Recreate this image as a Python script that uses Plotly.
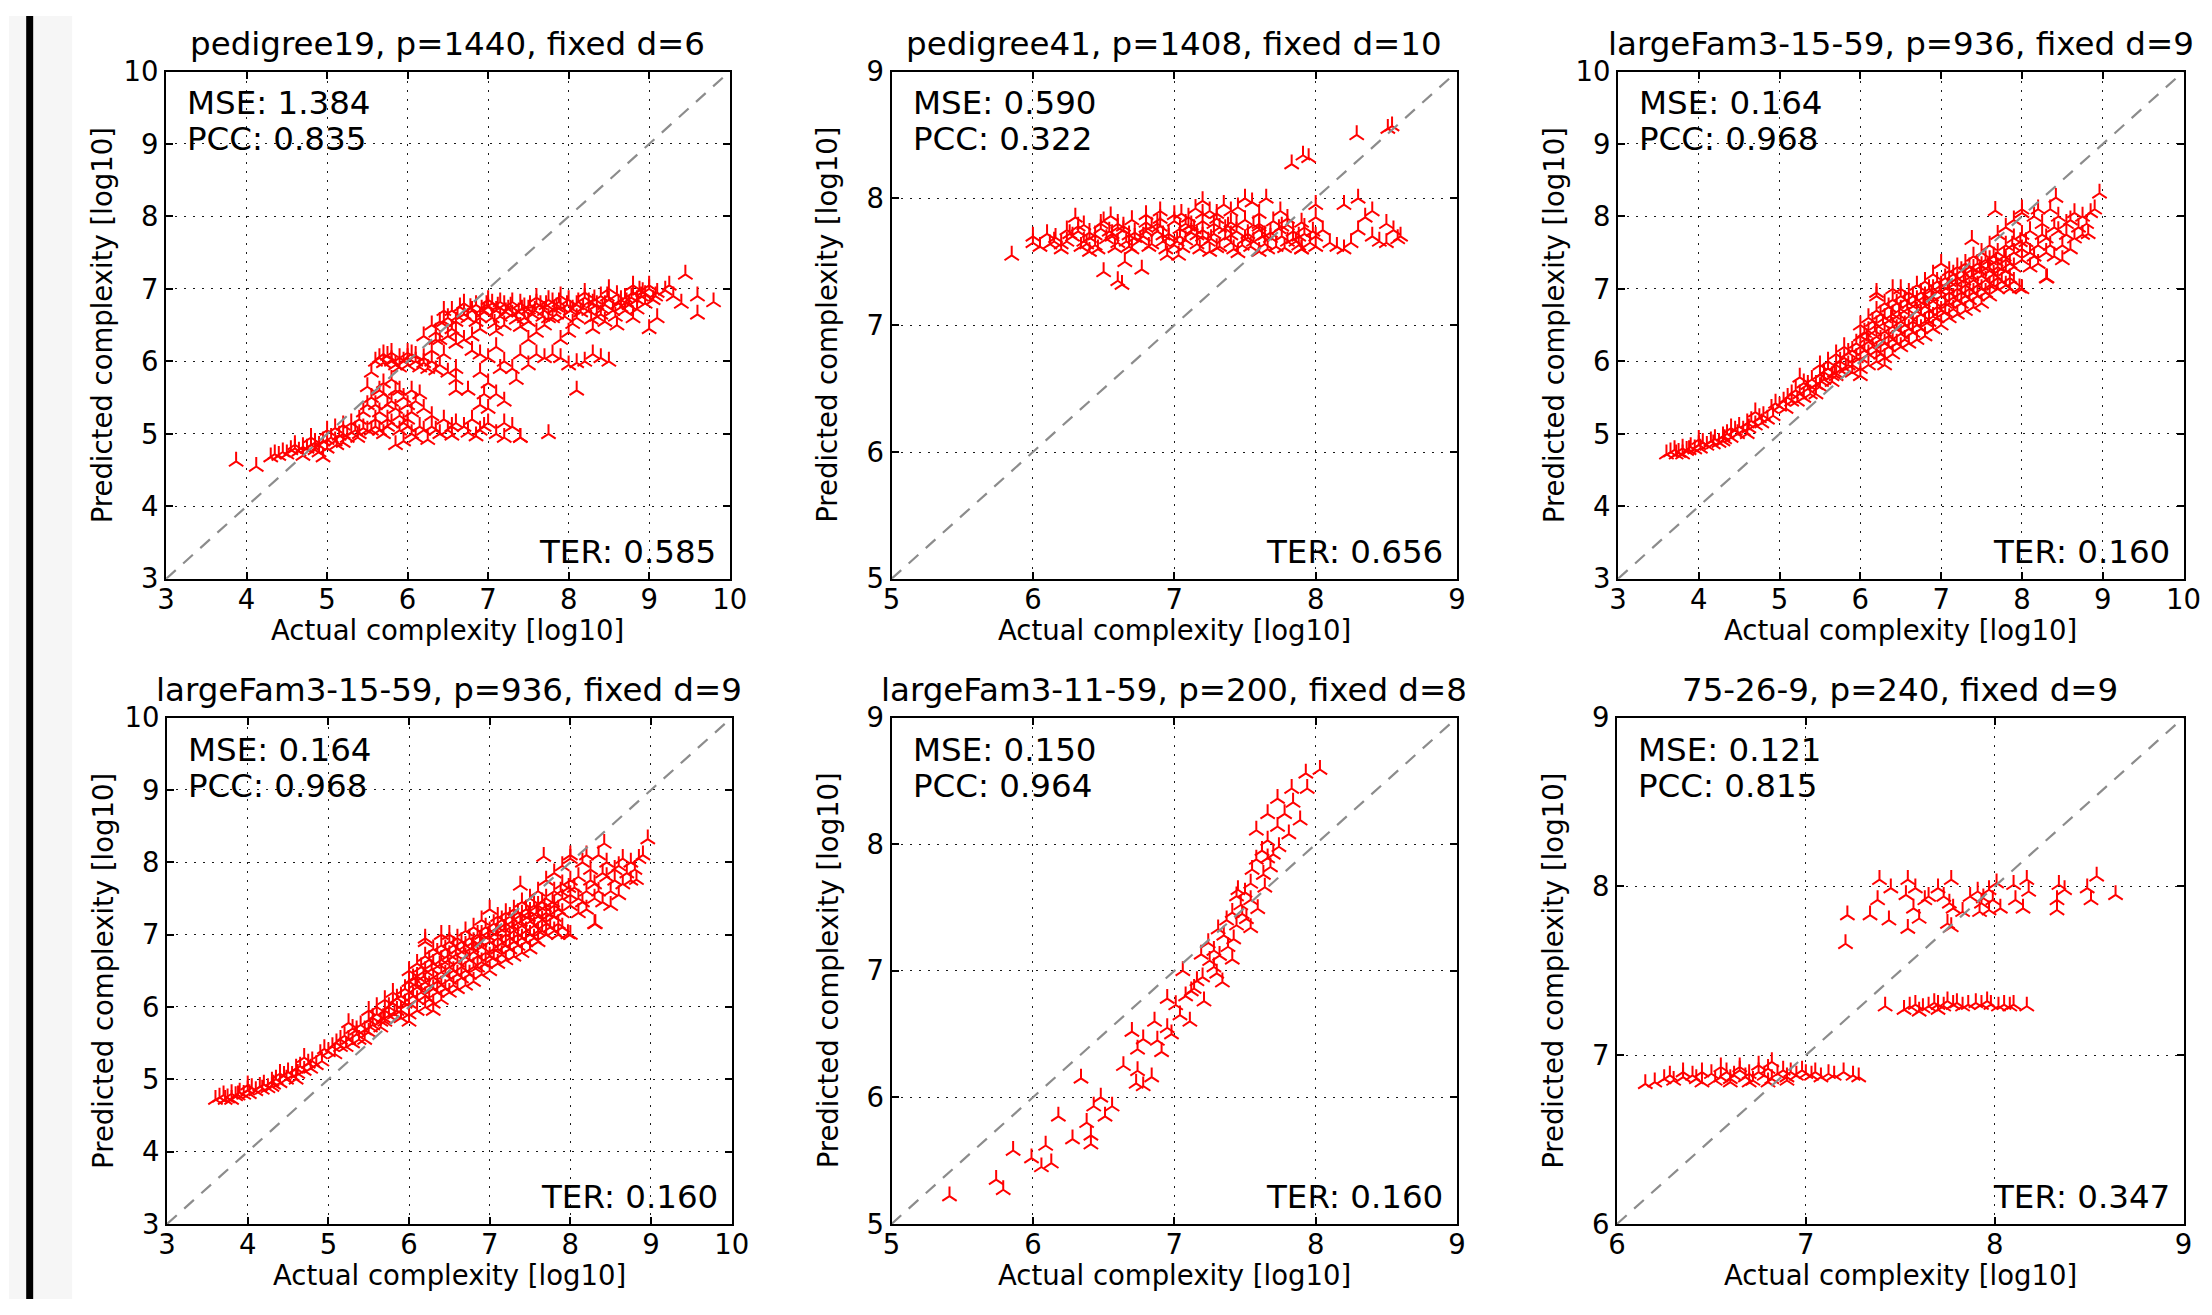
import plotly.graph_objects as go

W, H = 2212, 1315

# ---------------- data ----------------
titles = ["pedigree19, p=1440, fixed d=6", "pedigree41, p=1408, fixed d=10",
          "largeFam3-15-59, p=936, fixed d=9", "largeFam3-15-59, p=936, fixed d=9",
          "largeFam3-11-59, p=200, fixed d=8", "75-26-9, p=240, fixed d=9"]
mse = ["1.384", "0.590", "0.164", "0.164", "0.150", "0.121"]
pcc = ["0.835", "0.322", "0.968", "0.968", "0.964", "0.815"]
ter = ["0.585", "0.656", "0.160", "0.160", "0.160", "0.347"]
axis_lo = [3, 5, 3, 3, 5, 6]
axis_hi = [10, 9, 10, 10, 9, 9]

ped19_pts = [
    (3.87, 4.62), (4.12, 4.55),
    (4.3, 4.68), (4.35, 4.72), (4.4, 4.7), (4.45, 4.75), (4.5, 4.72), (4.55, 4.78), (4.6, 4.8), (4.65, 4.76),
    (4.7, 4.82), (4.75, 4.8), (4.8, 4.85), (4.85, 4.88), (4.9, 4.84), (4.95, 4.9), (5.0, 4.92), (5.05, 4.95),
    (5.1, 4.9), (5.15, 4.98), (5.2, 5.0), (5.25, 4.95), (5.3, 5.02), (5.35, 5.05), (5.4, 5.0), (5.45, 5.08),
    (5.5, 5.05), (4.9, 4.75), (5.0, 4.8), (4.7, 4.7), (5.2, 4.88), (5.0, 5.05), (5.2, 5.12), (5.3, 5.15),
    (4.8, 4.95), (5.1, 5.08), (4.95, 4.68),
    (5.6, 5.1), (5.7, 5.0), (5.8, 5.15), (5.9, 5.05), (6.0, 5.1), (6.1, 4.95), (6.2, 5.05), (6.3, 5.1),
    (6.4, 5.0), (6.5, 5.05), (6.6, 5.15), (6.7, 5.1), (6.8, 5.2), (6.9, 5.05), (7.0, 5.15), (7.1, 5.0),
    (7.2, 4.95), (7.3, 5.1), (7.4, 4.95), (6.45, 5.2), (6.85, 4.97), (5.85, 4.85), (5.95, 4.9), (6.55, 4.98),
    (5.65, 5.05), (6.05, 5.0), (6.25, 4.92), (6.75, 5.02),
    (5.5, 5.65), (5.55, 5.5), (5.6, 5.4), (5.65, 5.3), (5.7, 5.55), (5.75, 5.2), (5.8, 5.45), (5.85, 5.35),
    (5.9, 5.25), (5.95, 5.5), (6.0, 5.4), (6.05, 5.3), (6.1, 5.45), (6.2, 5.35), (5.7, 5.7), (5.6, 5.2),
    (5.9, 5.6), (6.15, 5.55), (6.3, 5.25), (5.55, 5.85), (5.75, 5.4), (5.85, 5.6), (6.0, 5.2), (5.45, 5.3),
    (5.6, 6.0), (5.65, 6.05), (5.7, 5.98), (5.75, 6.08), (5.8, 6.02), (5.85, 5.95), (5.9, 6.05), (5.95, 6.0),
    (6.0, 5.95), (6.05, 6.1), (6.1, 6.0), (6.15, 5.92), (6.2, 6.05), (6.25, 5.9), (6.3, 6.0), (6.35, 5.88),
    (6.4, 5.95), (6.5, 5.85), (6.6, 5.9), (6.0, 6.12), (5.8, 6.12), (6.3, 6.15), (6.45, 6.1), (5.7, 6.1),
    (6.4, 6.3), (6.5, 6.35), (6.6, 6.25), (6.7, 6.3), (6.8, 6.15), (6.9, 6.1), (7.0, 6.05), (7.1, 6.2),
    (7.2, 6.0), (7.3, 5.9), (7.4, 6.1), (7.5, 5.95), (7.6, 6.1), (7.7, 6.05), (7.8, 6.1), (7.9, 6.05),
    (8.0, 5.95), (8.1, 5.98), (8.2, 6.0), (8.4, 6.05), (8.5, 6.0), (6.6, 5.75), (6.75, 5.6), (6.9, 5.85),
    (7.0, 5.7), (7.2, 5.45), (7.0, 5.35), (8.1, 5.6), (6.6, 5.6), (7.5, 6.3), (7.9, 6.3), (8.3, 6.1),
    (6.95, 5.55), (7.35, 5.75), (6.35, 6.3), (7.15, 5.9),
    (6.3, 6.5), (6.4, 6.55), (6.5, 6.6), (6.6, 6.55), (6.7, 6.65), (6.8, 6.7), (6.9, 6.6), (7.0, 6.75),
    (7.1, 6.7), (7.2, 6.78), (7.3, 6.65), (7.4, 6.8), (7.5, 6.72), (7.6, 6.8), (7.7, 6.7), (7.8, 6.82),
    (7.9, 6.75), (8.0, 6.85), (8.1, 6.78), (8.2, 6.88), (8.3, 6.8), (8.4, 6.9), (8.5, 6.85), (8.6, 6.92),
    (8.7, 6.88), (8.8, 6.95), (8.9, 6.9), (9.0, 7.0), (9.1, 6.95), (9.2, 6.98),
    (6.7, 6.8), (7.0, 6.85), (7.3, 6.82), (7.6, 6.88), (7.9, 6.9), (8.2, 6.95), (8.5, 7.0), (8.8, 7.05),
    (9.0, 7.05), (6.6, 6.4), (6.9, 6.45), (7.2, 6.5), (7.5, 6.55), (7.8, 6.6), (8.1, 6.6), (8.4, 6.65),
    (8.7, 6.7), (7.05, 6.6), (7.45, 6.6), (7.85, 6.65), (8.25, 6.7), (8.65, 6.75), (8.95, 6.8), (6.2, 6.35),
    (6.8, 6.35), (7.6, 6.4), (8.3, 6.45), (8.0, 6.4), (8.6, 6.5), (6.45, 6.7), (7.15, 6.82), (7.75, 6.85),
    (8.35, 6.78), (8.85, 6.85),
    (6.55, 6.7), (6.65, 6.75), (6.75, 6.6), (6.85, 6.78), (6.95, 6.68), (7.05, 6.8), (7.15, 6.62), (7.25, 6.72),
    (7.35, 6.58), (7.45, 6.75), (7.55, 6.65), (7.65, 6.78), (7.75, 6.6), (7.85, 6.75), (7.95, 6.62), (8.05, 6.72),
    (8.15, 6.68), (8.25, 6.82), (8.35, 6.62), (8.45, 6.78), (8.55, 6.7), (8.65, 6.85), (8.75, 6.78), (8.85, 6.72),
    (8.95, 6.92), (9.05, 6.85), (6.45, 6.55), (6.35, 6.4), (6.55, 6.45), (7.1, 6.42), (7.4, 6.48), (7.7, 6.5),
    (8.05, 6.52), (8.45, 6.55), (8.8, 6.6),
    (6.62, 6.62), (6.92, 6.72), (7.22, 6.68), (7.52, 6.78), (7.82, 6.72), (8.12, 6.82), (8.42, 6.72), (8.72, 6.82),
    (7.08, 6.52), (7.38, 6.68), (7.68, 6.62), (7.98, 6.78), (8.28, 6.58), (8.58, 6.62), (8.88, 6.98), (6.85, 6.55),
    (6.98, 6.78), (7.28, 6.76), (7.58, 6.7), (7.88, 6.82), (8.18, 6.74), (8.48, 6.9), (8.78, 6.88), (9.08, 6.9),
    (7.12, 6.76), (7.42, 6.72), (7.72, 6.78), (8.02, 6.7), (8.32, 6.86), (8.62, 6.8), (8.92, 6.96), (6.78, 6.74),
    (5.55, 5.05), (5.75, 5.1), (5.95, 5.15), (6.15, 5.1), (6.35, 5.05), (6.55, 5.1), (6.95, 5.1), (5.65, 5.6),
    (5.8, 5.75), (6.05, 5.6), (5.5, 5.4), (5.4, 5.2), (5.8, 6.0), (6.0, 6.05), (6.2, 5.98), (5.9, 5.92),
    (6.1, 6.08), (4.6, 4.85), (4.85, 4.78), (5.12, 4.85), (5.38, 4.95),
    (9.45, 7.2), (9.3, 6.9), (9.4, 6.8), (9.6, 6.9), (9.8, 6.82), (9.6, 6.65), (9.0, 6.45), (9.1, 6.6),
    (9.25, 7.05), (7.75, 5.0), (7.4, 4.95), (7.2, 5.15), (6.9, 5.4), (7.1, 5.55),
]

ped41_pts = [
    (5.85, 7.55), (6.0, 7.65), (6.0, 7.7), (6.05, 7.62), (6.1, 7.72), (6.15, 7.66),
    (6.2, 7.64), (6.28, 7.7), (6.36, 7.66), (6.44, 7.63), (6.52, 7.68), (6.6, 7.65), (6.68, 7.62), (6.76, 7.67),
    (6.84, 7.64), (6.92, 7.66), (7.0, 7.63), (7.08, 7.67), (7.16, 7.64), (7.24, 7.66), (7.32, 7.62), (7.4, 7.65),
    (7.48, 7.63), (7.56, 7.66), (7.64, 7.64), (7.72, 7.62), (7.8, 7.66), (7.88, 7.63), (7.96, 7.65),
    (6.24, 7.75), (6.32, 7.78), (6.4, 7.73), (6.48, 7.76), (6.56, 7.72), (6.64, 7.75), (6.72, 7.73), (6.8, 7.77),
    (6.88, 7.74), (6.96, 7.72), (7.04, 7.76), (7.12, 7.73), (7.2, 7.75), (7.28, 7.72), (7.36, 7.76), (7.44, 7.74),
    (7.52, 7.72), (7.6, 7.75), (7.68, 7.73), (7.76, 7.7), (7.84, 7.74), (7.92, 7.72), (8.0, 7.7),
    (6.5, 7.82), (6.6, 7.8), (6.7, 7.83), (6.8, 7.81), (6.9, 7.84), (7.0, 7.82), (7.1, 7.85), (7.2, 7.82),
    (7.3, 7.84), (7.4, 7.81), (7.5, 7.83), (7.6, 7.8), (7.7, 7.82), (7.8, 7.79), (7.9, 7.81),
    (6.16, 7.69), (6.24, 7.66), (6.32, 7.74), (6.4, 7.69), (6.48, 7.8), (6.56, 7.7), (6.64, 7.78), (6.72, 7.69),
    (6.8, 7.74), (6.88, 7.8), (6.96, 7.69), (7.04, 7.7), (7.12, 7.79), (7.2, 7.7), (7.28, 7.8), (7.36, 7.69),
    (7.44, 7.79), (7.52, 7.69), (7.6, 7.78), (7.68, 7.69), (7.76, 7.78), (7.84, 7.68), (7.92, 7.77), (8.0, 7.62),
    (6.2, 7.6), (6.34, 7.62), (6.46, 7.6), (6.58, 7.61), (6.7, 7.6), (6.82, 7.62), (6.94, 7.6), (7.06, 7.61),
    (7.18, 7.6), (7.3, 7.61), (7.42, 7.6), (7.54, 7.62), (7.66, 7.6), (7.78, 7.61), (7.9, 7.6),
    (6.44, 7.71), (6.68, 7.71), (6.92, 7.71), (7.16, 7.71), (7.4, 7.71), (7.64, 7.71), (7.88, 7.7),
    (6.36, 7.79), (6.6, 7.77), (6.84, 7.78), (7.08, 7.8), (7.32, 7.77), (7.56, 7.79), (7.8, 7.84),
    (6.12, 7.64), (6.26, 7.72), (6.38, 7.64), (6.54, 7.74), (6.66, 7.66), (6.78, 7.7), (6.9, 7.78), (7.02, 7.66),
    (7.14, 7.76), (7.26, 7.68), (7.38, 7.78), (7.5, 7.68), (7.62, 7.7), (7.74, 7.76), (7.86, 7.66), (7.98, 7.74),
    (7.0, 7.87), (7.1, 7.78), (7.2, 7.88), (6.8, 7.87), (7.6, 7.88), (7.75, 7.9),
    (6.3, 7.85), (6.55, 7.86), (6.9, 7.9), (7.05, 7.88), (7.15, 7.92), (7.25, 7.9), (7.35, 7.95), (7.45, 7.93),
    (7.55, 7.97), (7.65, 8.0), (7.2, 7.98), (7.5, 8.0), (7.3, 7.88), (7.4, 7.9),
    (6.5, 7.42), (6.6, 7.35), (6.63, 7.32), (6.77, 7.44), (6.65, 7.5), (7.03, 7.55), (6.95, 7.55),
    (6.4, 7.58), (7.25, 7.58), (7.6, 7.58), (7.9, 7.6), (7.45, 7.57),
    (8.05, 7.75), (8.1, 7.65), (8.15, 7.62), (8.2, 7.95), (8.25, 7.65), (8.3, 8.0), (8.3, 7.75), (8.35, 7.85),
    (8.4, 7.7), (8.4, 7.9), (8.45, 7.66), (8.5, 7.8), (8.55, 7.75), (8.6, 7.7), (8.5, 7.65), (8.58, 7.68),
    (8.2, 7.6), (8.0, 7.95), (8.0, 7.85),
    (7.83, 8.27), (7.91, 8.34), (7.95, 8.32), (8.29, 8.5), (8.51, 8.55), (8.54, 8.57),
]

lf1559_pts = [
    (3.6, 4.72), (3.65, 4.75), (3.7, 4.78), (3.75, 4.74), (3.8, 4.8), (3.85, 4.77), (3.9, 4.82), (3.95, 4.79),
    (4.0, 4.85), (4.05, 4.88), (4.1, 4.84), (4.15, 4.9), (4.2, 4.93), (4.25, 4.88), (4.3, 4.97), (4.35, 5.0),
    (4.4, 4.95), (4.45, 5.05), (4.5, 5.1), (4.55, 5.05), (4.6, 5.15), (4.65, 5.18), (4.7, 5.12), (4.75, 5.22),
    (4.8, 5.25), (4.85, 5.2), (4.9, 5.35), (4.95, 5.42), (5.0, 5.38), (5.05, 5.45), (4.7, 5.3), (4.4, 5.08),
    (4.0, 4.92), (3.8, 4.72), (4.3, 4.9), (4.6, 5.0),
    (5.1, 5.5), (5.15, 5.45), (5.2, 5.6), (5.25, 5.55), (5.3, 5.7), (5.35, 5.62), (5.4, 5.75), (5.45, 5.68),
    (5.5, 5.82), (5.55, 5.75), (5.6, 5.9), (5.65, 5.8), (5.7, 5.95), (5.75, 5.88), (5.8, 6.05), (5.85, 5.95),
    (5.9, 6.15), (5.95, 6.05), (6.0, 6.2), (5.3, 5.5), (5.5, 5.65), (5.7, 5.8), (5.9, 5.95), (5.6, 6.0),
    (5.8, 6.2), (5.5, 5.95), (5.25, 5.78), (5.7, 6.1),
    (6.0, 5.9), (6.0, 6.05), (6.0, 6.35), (6.0, 6.5),
    (6.1, 5.95), (6.1, 6.1), (6.1, 6.27), (6.1, 6.42), (6.1, 6.6),
    (6.2, 6.0), (6.2, 6.15), (6.2, 6.34), (6.2, 6.5), (6.2, 6.7), (6.2, 6.9),
    (6.3, 6.05), (6.3, 6.25), (6.3, 6.41), (6.3, 6.6), (6.3, 6.8),
    (6.4, 6.1), (6.4, 6.3), (6.4, 6.48), (6.4, 6.65), (6.4, 6.85), (6.4, 7.0),
    (6.5, 6.2), (6.5, 6.38), (6.5, 6.55), (6.5, 6.72), (6.5, 6.9),
    (6.6, 6.25), (6.6, 6.45), (6.6, 6.62), (6.6, 6.8), (6.6, 6.95),
    (6.7, 6.3), (6.7, 6.5), (6.7, 6.69), (6.7, 6.85), (6.7, 7.05),
    (6.8, 6.35), (6.8, 6.55), (6.8, 6.76), (6.8, 6.9), (6.8, 7.1),
    (6.9, 6.45), (6.9, 6.62), (6.9, 6.83), (6.9, 7.0), (6.9, 7.2),
    (7.0, 6.5), (7.0, 6.7), (7.0, 6.9), (7.0, 7.05), (7.0, 7.35),
    (7.1, 6.6), (7.1, 6.8), (7.1, 6.95), (7.1, 7.1), (7.1, 7.25),
    (7.2, 6.65), (7.2, 6.85), (7.2, 7.0), (7.2, 7.15), (7.2, 7.3),
    (7.3, 6.7), (7.3, 6.9), (7.3, 7.05), (7.3, 7.2), (7.3, 7.35),
    (7.4, 6.75), (7.4, 6.95), (7.4, 7.12), (7.4, 7.28), (7.4, 7.45),
    (7.5, 6.8), (7.5, 7.0), (7.5, 7.18), (7.5, 7.32), (7.5, 7.5),
    (7.6, 6.9), (7.6, 7.05), (7.6, 7.25), (7.6, 7.4), (7.6, 7.6),
    (7.7, 7.0), (7.7, 7.15), (7.7, 7.3), (7.7, 7.5), (7.7, 7.75),
    (7.8, 7.05), (7.8, 7.25), (7.8, 7.4), (7.8, 7.6), (7.8, 7.85),
    (7.9, 7.1), (7.9, 7.3), (7.9, 7.5), (7.9, 7.7), (7.9, 7.95),
    (8.0, 7.0), (8.0, 7.4), (8.0, 7.55), (8.0, 7.75), (8.0, 8.05),
    (5.85, 6.12), (5.95, 6.25), (6.05, 6.15), (6.15, 6.2), (6.25, 6.3), (6.35, 6.35), (6.45, 6.45), (6.55, 6.5),
    (6.65, 6.55), (6.75, 6.65), (6.85, 6.7), (6.95, 6.75), (7.05, 6.8), (7.15, 6.88), (7.25, 6.95), (7.35, 7.0),
    (7.45, 7.05), (7.55, 7.12), (7.65, 7.2), (7.75, 7.28), (7.85, 7.35), (6.05, 6.4), (6.15, 6.55), (6.25, 6.65),
    (6.35, 6.75), (6.45, 6.8), (6.55, 6.85), (6.65, 6.9), (6.75, 6.95), (6.85, 7.0), (6.95, 7.1), (7.05, 7.15),
    (7.15, 7.2), (7.25, 7.25), (7.35, 7.3), (7.45, 7.35), (7.55, 7.4), (7.65, 7.45), (6.25, 6.1), (6.35, 6.2),
    (6.45, 6.25), (6.55, 6.3), (6.65, 6.4), (6.75, 6.45), (6.85, 6.55), (6.95, 6.6), (7.05, 6.68), (7.15, 6.72),
    (7.25, 6.8), (7.35, 6.85), (7.45, 6.9), (7.55, 6.95), (7.65, 7.05), (7.75, 7.1), (7.85, 7.15), (5.15, 5.55),
    (5.35, 5.68), (5.55, 5.85), (5.75, 6.0), (5.45, 5.55), (5.65, 5.72),
    (3.72, 4.72), (3.88, 4.78), (4.02, 4.8), (4.18, 4.86), (4.32, 4.93), (4.48, 5.0), (4.62, 5.08), (4.78, 5.15),
    (4.92, 5.25), (5.08, 5.35), (5.22, 5.45), (5.38, 5.55), (5.52, 5.72), (5.68, 5.85), (5.82, 5.9),
    (6.08, 6.32), (6.18, 6.42), (6.28, 6.52), (6.38, 6.58), (6.48, 6.64), (6.58, 6.72), (6.68, 6.78), (6.78, 6.82),
    (6.88, 6.9), (6.98, 6.98), (7.08, 7.02), (7.18, 7.08), (7.28, 7.12), (7.38, 7.18), (7.48, 7.25), (7.58, 7.3),
    (7.68, 7.38), (7.78, 7.45), (7.88, 7.6), (7.98, 7.65),
    (8.1, 7.5), (8.1, 7.8), (8.15, 8.0), (8.2, 7.6), (8.25, 7.9), (8.3, 7.15), (8.3, 7.7), (8.35, 8.1),
    (8.4, 7.45), (8.4, 7.85), (8.42, 8.26), (8.45, 8.0), (8.5, 7.6), (8.5, 7.4), (8.55, 7.75), (8.6, 7.95),
    (8.65, 7.7), (8.7, 7.85), (8.75, 8.0), (8.8, 7.9), (8.82, 7.76), (8.85, 8.05), (8.9, 8.1), (8.96, 8.32),
    (8.2, 8.1), (8.0, 8.1), (7.67, 8.08), (7.38, 7.68), (7.97, 7.01), (8.31, 7.15), (7.85, 7.0), (6.2, 6.95),
    (6.5, 7.0), (6.3, 5.95), (6.0, 5.8), (5.9, 5.85), (8.1, 7.3), (8.2, 7.35), (8.6, 7.55), (8.3, 7.5),
    (8.05, 7.65), (8.15, 7.45), (8.25, 7.75), (8.35, 7.6), (8.45, 7.8), (8.55, 7.9), (8.65, 8.05), (8.75, 7.75),
]

lf1159_pts = [
    (8.03, 8.59), (7.93, 8.56), (7.94, 8.44), (7.83, 8.44), (7.73, 8.36), (7.84, 8.33), (7.66, 8.24), (7.78, 8.24),
    (7.89, 8.19), (7.58, 8.11), (7.73, 8.14), (7.81, 8.08), (7.66, 8.03), (7.74, 7.98), (7.58, 7.88), (7.66, 7.89),
    (7.7, 7.92), (7.62, 7.95), (7.63, 7.76), (7.54, 7.69), (7.64, 7.66), (7.44, 7.59), (7.54, 7.56), (7.59, 7.49),
    (7.5, 7.62), (7.47, 7.52), (7.41, 7.46), (7.51, 7.41), (7.31, 7.33), (7.44, 7.36), (7.54, 7.34), (7.38, 7.19),
    (7.35, 7.28), (7.42, 7.25), (7.28, 7.16), (7.41, 7.09), (7.19, 7.13), (7.28, 7.03), (7.34, 6.91), (7.06, 7.0),
    (7.25, 7.08), (7.32, 7.12), (7.3, 6.98), (7.14, 6.86), (7.08, 6.8), (7.01, 6.73), (7.21, 6.76), (7.12, 6.84),
    (7.16, 6.92), (7.11, 6.6), (6.98, 6.5), (6.86, 6.6), (6.78, 6.46), (6.91, 6.36), (6.74, 6.38), (6.64, 6.25),
    (6.74, 6.21), (6.84, 6.16), (6.73, 6.11), (6.78, 6.09), (6.34, 6.15), (6.48, 6.0), (6.43, 5.93), (6.56, 5.93),
    (6.51, 5.85), (6.38, 5.8), (6.18, 5.85), (6.41, 5.7), (6.28, 5.67), (6.41, 5.63), (6.09, 5.62), (5.99, 5.52),
    (6.06, 5.45), (6.13, 5.48), (5.86, 5.58), (5.74, 5.35), (5.79, 5.27), (5.41, 5.22), (6.95, 6.55), (7.04, 6.65),
    (6.95, 6.78), (6.88, 6.45), (6.7, 6.52), (7.2, 6.95), (7.48, 7.45), (7.37, 7.4), (7.24, 7.22), (7.45, 7.64),
    (7.68, 7.82), (7.55, 7.8),
]

s7526_pts = [
    (6.15, 6.83), (6.2, 6.84), (6.25, 6.86), (6.28, 6.88), (6.3, 6.85), (6.35, 6.87), (6.4, 6.88), (6.42, 6.86),
    (6.45, 6.9), (6.5, 6.89), (6.52, 6.85), (6.55, 6.87), (6.58, 6.9), (6.6, 6.86), (6.62, 6.88), (6.65, 6.91),
    (6.68, 6.87), (6.7, 6.89), (6.72, 6.85), (6.75, 6.9), (6.78, 6.88), (6.8, 6.92), (6.82, 6.86), (6.85, 6.89),
    (6.88, 6.91), (6.9, 6.87), (6.92, 6.9), (6.95, 6.88), (6.98, 6.91), (7.0, 6.89), (7.03, 6.88), (7.05, 6.9),
    (7.08, 6.87), (7.12, 6.89), (7.15, 6.88), (7.2, 6.9), (7.25, 6.88), (7.28, 6.87), (6.6, 6.84), (6.7, 6.84),
    (6.8, 6.84), (6.9, 6.85), (6.65, 6.93), (6.75, 6.94), (6.82, 6.96), (6.45, 6.84), (6.55, 6.93), (6.35, 6.9),
    (7.42, 7.29), (7.52, 7.27), (7.55, 7.29), (7.58, 7.3), (7.62, 7.28), (7.65, 7.29), (7.68, 7.31), (7.7, 7.3),
    (7.73, 7.29), (7.75, 7.32), (7.78, 7.3), (7.8, 7.31), (7.83, 7.29), (7.86, 7.3), (7.9, 7.31), (7.93, 7.3),
    (7.96, 7.32), (7.98, 7.3), (8.02, 7.29), (8.05, 7.3), (8.08, 7.29), (8.1, 7.3), (8.17, 7.29), (7.6, 7.26),
    (7.7, 7.27),
    (7.21, 7.66), (7.22, 7.83), (7.34, 7.83), (7.39, 8.04), (7.38, 7.92), (7.45, 7.99), (7.44, 7.8), (7.54, 8.04),
    (7.53, 7.95), (7.54, 7.75), (7.58, 7.99), (7.57, 7.87), (7.63, 7.92), (7.6, 7.81), (7.65, 7.94), (7.7, 7.99),
    (7.73, 7.94), (7.77, 8.04), (7.76, 7.9), (7.75, 7.78), (7.77, 7.76), (7.78, 7.87), (7.83, 7.85), (7.87, 7.94),
    (7.91, 7.97), (7.93, 7.9), (7.97, 7.98), (7.99, 7.92), (8.01, 8.02), (7.97, 7.86), (8.03, 7.87), (8.1, 8.01),
    (8.11, 7.92), (8.17, 8.04), (8.15, 7.87), (8.18, 7.97), (8.34, 8.01), (8.33, 7.92), (8.33, 7.86), (8.37, 7.98),
    (8.49, 7.99), (8.54, 8.06), (8.51, 7.92), (8.64, 7.95), (7.92, 7.85), (7.94, 7.93),
]

panel_points = [ped19_pts, ped41_pts, lf1559_pts, lf1559_pts, lf1159_pts, s7526_pts]

# ---------------- layout geometry (target pixels in the final picture) ----------------
boxes = [(165, 729, 70, 578), (891, 1457, 70, 578), (1618, 2184, 70, 578),
         (166, 731, 717, 1224), (891, 1457, 717, 1224), (1617, 2184, 717, 1224)]

# the page photograph places the figure with a small offset/scale; compensate
AX, SX = 7.8, 0.989
AY, SY = 14.4, 0.977

FONT = "DejaVu Sans"
F_BIG = 32.5
F_MED = 27.5
fig = go.Figure()
annotations = []
layout_axes = {}


def px_x(p):
    return (p - AX) / SX / W


def px_y(p):
    return 1 - (p - AY) / SY / H


for i, (pts, box) in enumerate(zip(panel_points, boxes)):
    n = i + 1
    xa = "x" if n == 1 else f"x{n}"
    ya = "y" if n == 1 else f"y{n}"
    l, r, t, b = box
    lo, hi = axis_lo[i], axis_hi[i]
    common = dict(
        range=[lo, hi], dtick=1, tick0=lo, showgrid=True, gridcolor="#1a1a1a",
        griddash="2px,7px", gridwidth=1.3, zeroline=False, showline=True,
        linecolor="black", linewidth=2, mirror="allticks", ticks="inside", ticklen=7,
        tickwidth=1.5, tickcolor="black",
        tickfont=dict(family=FONT, size=F_MED, color="black"),
    )
    layout_axes["xaxis" if n == 1 else f"xaxis{n}"] = dict(
        common, domain=[px_x(l), px_x(r)], anchor=ya, ticklabelstandoff=-5)
    layout_axes["yaxis" if n == 1 else f"yaxis{n}"] = dict(
        common, domain=[px_y(b), px_y(t)], anchor=xa)

    fig.add_trace(go.Scatter(
        x=[p[0] for p in pts], y=[p[1] for p in pts], mode="markers",
        marker=dict(symbol="y-up", size=12, color="red",
                    line=dict(color="red", width=2)),
        xaxis=xa, yaxis=ya, showlegend=False, hoverinfo="skip"))
    fig.add_trace(go.Scatter(
        x=[lo, hi], y=[lo, hi], mode="lines",
        line=dict(color="#8c8c8c", width=2.2, dash="13px,10px"),
        xaxis=xa, yaxis=ya, showlegend=False, hoverinfo="skip"))

    cx = (l + r) / 2
    cy = (t + b) / 2
    annotations += [
        dict(text=titles[i], x=px_x(cx), y=px_y(t - 28), xref="paper", yref="paper",
             xanchor="center", yanchor="middle", showarrow=False,
             font=dict(family=FONT, size=F_BIG, color="black")),
        dict(text="MSE: " + mse[i], x=px_x(l + 19), y=px_y(t + 32), xref="paper", yref="paper",
             xanchor="left", yanchor="middle", showarrow=False,
             font=dict(family=FONT, size=F_BIG, color="black")),
        dict(text="PCC: " + pcc[i], x=px_x(l + 19), y=px_y(t + 68), xref="paper", yref="paper",
             xanchor="left", yanchor="middle", showarrow=False,
             font=dict(family=FONT, size=F_BIG, color="black")),
        dict(text="TER: " + ter[i], x=px_x(r - 12), y=px_y(b - 27), xref="paper", yref="paper",
             xanchor="right", yanchor="middle", showarrow=False,
             font=dict(family=FONT, size=F_BIG, color="black")),
        dict(text="Actual complexity [log10]", x=px_x(cx), y=px_y(b + 51), xref="paper", yref="paper",
             xanchor="center", yanchor="middle", showarrow=False,
             font=dict(family=FONT, size=F_MED, color="black")),
        dict(text="Predicted complexity [log10]", x=px_x(l - 64), y=px_y(cy), xref="paper", yref="paper",
             xanchor="center", yanchor="middle", showarrow=False, textangle=-90,
             font=dict(family=FONT, size=F_MED, color="black")),
    ]

shapes = [
    dict(type="rect", xref="paper", yref="paper", x0=0, x1=px_x(71), y0=0, y1=1,
         fillcolor="#f6f6f6", line=dict(width=0), layer="below"),
    dict(type="rect", xref="paper", yref="paper", x0=px_x(25), x1=px_x(32), y0=0, y1=1,
         fillcolor="black", line=dict(width=0), layer="below"),
]

fig.update_layout(
    width=W, height=H, autosize=False,
    margin=dict(l=0, r=0, t=0, b=0),
    paper_bgcolor="white", plot_bgcolor="white",
    annotations=annotations, shapes=shapes,
    font=dict(family=FONT, color="black"),
    **layout_axes,
)

fig.write_html(
    "out.html",
    config={"displayModeBar": False},
    post_script="document.body.style.margin='0';document.body.style.padding='0';"
                "document.documentElement.style.overflow='hidden';",
)
